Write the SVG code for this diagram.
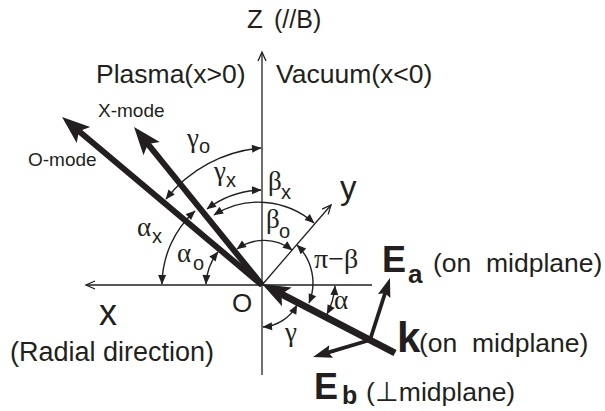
<svg xmlns="http://www.w3.org/2000/svg" width="605" height="411" viewBox="0 0 605 411">
<style>
.ax{stroke:#231f20;stroke-width:1.3;fill:none}
.arc{stroke:#231f20;stroke-width:1.4;fill:none;marker-start:url(#sm);marker-end:url(#sm)}
.thick{stroke:#231f20;fill:none}
.t{font-family:"Liberation Sans",Arial,sans-serif;fill:#231f20}
.g{font-family:"Liberation Serif","Times New Roman",serif;fill:#231f20}
.b{font-family:"Liberation Sans",Arial,sans-serif;font-weight:bold;fill:#231f20}
</style>
<defs>
<marker id="open" markerUnits="userSpaceOnUse" markerWidth="20" markerHeight="20" viewBox="-10 -10 20 20" refX="0" refY="0" orient="auto" overflow="visible">
<path d="M-9,-4 L0,0 L-9,4" stroke="#231f20" stroke-width="1.3" fill="none"/>
</marker>
<marker id="sm" markerUnits="userSpaceOnUse" markerWidth="20" markerHeight="20" viewBox="-10 -10 20 20" refX="0" refY="0" orient="auto-start-reverse" overflow="visible">
<path d="M0.5,0 L-9,-4 L-9,4 Z" fill="#231f20"/>
</marker>
<marker id="big" markerUnits="userSpaceOnUse" markerWidth="40" markerHeight="40" viewBox="-20 -20 40 40" refX="0" refY="0" orient="auto" overflow="visible">
<path d="M16,0 L-12,-10.5 L-6,0 L-12,10.5 Z" fill="#231f20"/>
</marker>
<marker id="mid" markerUnits="userSpaceOnUse" markerWidth="30" markerHeight="30" viewBox="-15 -15 30 30" refX="0" refY="0" orient="auto" overflow="visible">
<path d="M10,0 L-9,-6.5 L-6,0 L-9,6.5 Z" fill="#231f20"/>
</marker>
</defs>

<g id="connectors">
<g id="axes">
<line class="ax" x1="262" y1="375" x2="262" y2="52" marker-end="url(#open)"/>
<line class="ax" x1="372" y1="285" x2="86" y2="285" marker-end="url(#open)"/>
<line class="ax" x1="262" y1="285" x2="331" y2="205" marker-end="url(#open)"/>
</g>
<g id="waves">
<line class="thick" stroke-width="6" x1="262" y1="285" x2="74.3" y2="127.3" marker-end="url(#big)"/>
<line class="thick" stroke-width="6" x1="262" y1="285" x2="144.1" y2="139.4" marker-end="url(#big)"/>
<line class="thick" stroke-width="7" x1="395" y1="353" x2="276.2" y2="291.3" marker-end="url(#big)"/>
<line class="thick" stroke-width="3.8" x1="370" y1="340" x2="386.9" y2="287.5" marker-end="url(#mid)"/>
<line class="thick" stroke-width="3.8" x1="370" y1="340" x2="322.6" y2="354.1" marker-end="url(#mid)"/>
</g>
<g id="angles">
<path class="arc" d="M166,199 A135,135 0 0 1 261,148"/>
<path class="arc" d="M207,209 A95,95 0 0 1 261,190"/>
<path class="arc" d="M214,215 A84,84 0 0 1 314,223"/>
<path class="arc" d="M237,249 A46,46 0 0 1 292,250"/>
<path class="arc" d="M195,211 A100,100 0 0 0 162,284"/>
<path class="arc" d="M218,252 A56,56 0 0 0 206,284"/>
<path class="arc" d="M297,245 A53,53 0 0 1 309,303"/>
<path class="arc" d="M335,286 A72,72 0 0 1 327,314"/>
<path class="arc" d="M263,327 A42,42 0 0 0 297,305"/>
</g>
</g>

<g id="labels">
<text class="t" x="247" y="28" font-size="26">Z</text>
<text class="t" x="274" y="28" font-size="25">(//B)</text>
<text class="t" x="96" y="83" font-size="26.5">Plasma(x&gt;0)</text>
<text class="t" x="276" y="83" font-size="26.5">Vacuum(x&lt;0)</text>
<text class="t" x="98" y="117" font-size="19">X-mode</text>
<text class="t" x="28" y="166" font-size="19">O-mode</text>
<text class="g" x="187" y="147" font-size="27">γ</text><text class="t" x="199" y="153" font-size="20">o</text>
<text class="g" x="214" y="180" font-size="27">γ</text><text class="t" x="226" y="187" font-size="20">x</text>
<text class="g" x="268" y="190" font-size="27">β</text><text class="t" x="281" y="199" font-size="20">x</text>
<text class="g" x="266" y="228" font-size="27">β</text><text class="t" x="279" y="238" font-size="20">o</text>
<text class="g" x="137" y="236" font-size="27">α</text><text class="t" x="152" y="243" font-size="20">x</text>
<text class="g" x="177" y="262" font-size="27">α</text><text class="t" x="193" y="270" font-size="20">o</text>
<text class="g" x="314" y="268" font-size="28">π−β</text>
<text class="g" x="334" y="309" font-size="27">α</text>
<text class="g" x="285" y="341" font-size="27">γ</text>
<text class="t" x="232" y="312" font-size="26">O</text>
<text class="t" x="99" y="325" font-size="36">x</text>
<text class="t" x="10" y="361" font-size="27">(Radial direction)</text>
<text class="t" x="340" y="199" font-size="33">y</text>
<text class="b" x="382" y="272" font-size="36">E</text><text class="b" x="408" y="283" font-size="26">a</text>
<text class="t" x="433" y="272" font-size="26.5" xml:space="preserve">(on  midplane)</text>
<text class="b" x="397" y="352" font-size="42">k</text>
<text class="t" x="419" y="352" font-size="26.5" xml:space="preserve">(on  midplane)</text>
<text class="b" x="314" y="399" font-size="36">E</text><text class="b" x="342" y="404" font-size="25">b</text>
<text class="t" x="366" y="401" font-size="26.5">(⊥midplane)</text>
</g>
</svg>
